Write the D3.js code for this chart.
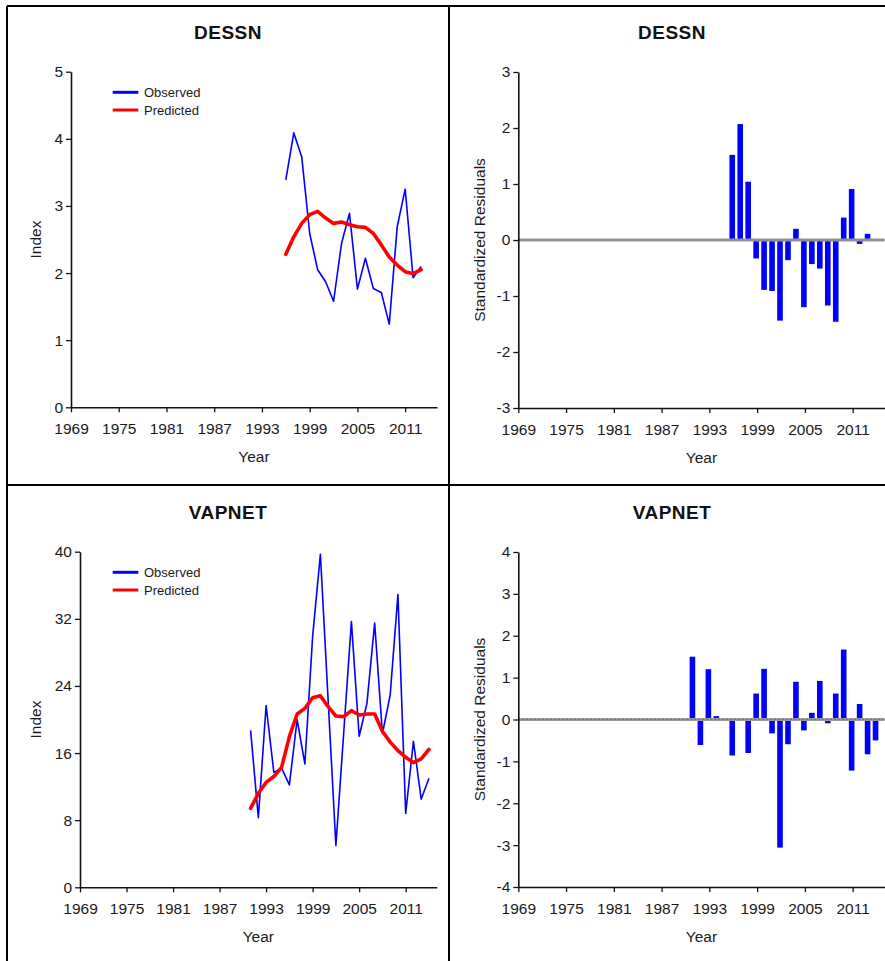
<!DOCTYPE html>
<html>
<head>
<meta charset="utf-8">
<script src="https://cdn.jsdelivr.net/npm/d3@7"></script>
<style>
  html, body { margin: 0; padding: 0; background: #fff; }
  svg { display: block; font-family: "Liberation Sans", Arial, sans-serif; }
</style>
</head>
<body>
<svg id="chart" width="885" height="961"></svg>
<script>
// ---------- data ----------
const xTickYears = [1969, 1975, 1981, 1987, 1993, 1999, 2005, 2011];

const dessnYears = [1996, 1997, 1998, 1999, 2000, 2001, 2002, 2003, 2004, 2005, 2006, 2007, 2008, 2009, 2010, 2011, 2012, 2013];
const dessnObserved = [3.39, 4.09, 3.73, 2.59, 2.05, 1.87, 1.58, 2.44, 2.89, 1.76, 2.22, 1.77, 1.71, 1.24, 2.69, 3.25, 1.93, 2.10];
const dessnPredicted = [2.28, 2.54, 2.74, 2.87, 2.92, 2.82, 2.74, 2.76, 2.72, 2.69, 2.68, 2.59, 2.42, 2.24, 2.12, 2.02, 1.99, 2.05];
const dessnResiduals = [1.52, 2.07, 1.04, -0.33, -0.89, -0.91, -1.44, -0.36, 0.20, -1.20, -0.43, -0.51, -1.17, -1.46, 0.40, 0.91, -0.07, 0.11];
const dessnIndexTicks = [0, 1, 2, 3, 4, 5];
const dessnResidTicks = [-3, -2, -1, 0, 1, 2, 3];

const vapnetYears = [1991, 1992, 1993, 1994, 1995, 1996, 1997, 1998, 1999, 2000, 2001, 2002, 2003, 2004, 2005, 2006, 2007, 2008, 2009, 2010, 2011, 2012, 2013, 2014];
const vapnetObserved = [18.7, 8.3, 21.65, 13.7, 14.2, 12.2, 20.0, 14.7, 29.9, 39.7, 22.3, 5.0, 18.3, 31.66, 18.0, 21.9, 31.5, 18.3, 22.9, 34.9, 8.8, 17.4, 10.5, 13.0];
const vapnetPredicted = [9.4, 11.2, 12.5, 13.2, 14.3, 17.95, 20.66, 21.33, 22.6, 22.84, 21.53, 20.42, 20.34, 21.05, 20.54, 20.66, 20.66, 18.6, 17.3, 16.3, 15.5, 14.86, 15.3, 16.45];
const vapnetResiduals = [1.50, -0.61, 1.20, 0.08, -0.03, -0.86, -0.03, -0.80, 0.62, 1.21, -0.33, -3.06, -0.59, 0.90, -0.26, 0.16, 0.92, -0.09, 0.62, 1.67, -1.22, 0.37, -0.83, -0.50];
const vapnetIndexTicks = [0, 8, 16, 24, 32, 40];
const vapnetResidTicks = [-4, -3, -2, -1, 0, 1, 2, 3, 4];

const legendLabels = ["Observed", "Predicted"];
const seriesColors = ["#0000ff", "#ff0000"];

// ---------- drawing ----------
const svg = d3.select("#chart");
svg.append("rect").attr("width", 885).attr("height", 961).attr("fill", "#fff");

// frame
const frame = svg.append("g").attr("stroke", "#000").attr("stroke-width", 2);
frame.append("line").attr("x1", 7).attr("x2", 885).attr("y1", 6).attr("y2", 6);
frame.append("line").attr("x1", 7).attr("x2", 7).attr("y1", 6).attr("y2", 961);
frame.append("line").attr("x1", 449).attr("x2", 449).attr("y1", 6).attr("y2", 961);
frame.append("line").attr("x1", 7).attr("x2", 885).attr("y1", 485).attr("y2", 485);

const tickFont = "15.5px";
const textColor = "#1a1a1a";
const plainFmt = d => String(d);

function drawAxes(g, x, y, yTicks, yLabel, yLabelX) {
  const [x0, x1] = x.range();
  const [yb, yt] = y.range();
  const xa = g.append("g").attr("transform", `translate(0,${yb})`)
    .call(d3.axisBottom(x).tickValues(xTickYears).tickFormat(plainFmt).tickSize(5).tickSizeOuter(0).tickPadding(11));
  const ya = g.append("g").attr("transform", `translate(${x0},0)`)
    .call(d3.axisLeft(y).tickValues(yTicks).tickFormat(plainFmt).tickSize(5).tickSizeOuter(0).tickPadding(3));
  [xa, ya].forEach(a => {
    a.select(".domain").attr("stroke", "#111").attr("stroke-width", 1.6);
    a.selectAll(".tick line").attr("stroke", "#111").attr("stroke-width", 1.3);
    a.selectAll(".tick text").attr("fill", textColor).style("font-size", tickFont).attr("font-family", "Liberation Sans, Arial, sans-serif");
  });
  g.append("text").attr("x", (x0 + x1) / 2).attr("y", yb + 55)
    .attr("text-anchor", "middle").style("font-size", "15.5px").attr("fill", textColor).text("Year");
  g.append("text").attr("transform", `translate(${yLabelX},${(yb + yt) / 2}) rotate(-90)`)
    .attr("text-anchor", "middle").style("font-size", "15.5px").attr("fill", textColor).text(yLabel);
}

function title(g, cx, cy, t) {
  g.append("text").attr("x", cx).attr("y", cy).attr("text-anchor", "middle")
    .style("font-size", "19px").style("font-weight", "bold").style("letter-spacing", "0.5px").attr("fill", "#111").text(t);
}

function linePanel(o) {
  const g = svg.append("g");
  const x = d3.scaleLinear().domain([1969, 2015]).range([o.xl, o.xr]);
  const y = d3.scaleLinear().domain([0, o.yTicks[o.yTicks.length - 1]]).range([o.yb, o.yt]);
  title(g, o.tx, o.ty, o.title);
  drawAxes(g, x, y, o.yTicks, "Index", 41);
  const line = d3.line().x((d, i) => x(o.years[i])).y(d => y(d));
  g.append("path").datum(o.obs).attr("d", line).attr("fill", "none")
    .attr("stroke", seriesColors[0]).attr("stroke-width", 1.6).attr("stroke-linejoin", "round");
  g.append("path").datum(o.pred).attr("d", line).attr("fill", "none")
    .attr("stroke", seriesColors[1]).attr("stroke-width", 3.6).attr("stroke-linejoin", "round").attr("stroke-linecap", "round");
  // legend
  legendLabels.forEach((lab, i) => {
    const ly = o.yt + 20.6 + i * 17.7;
    g.append("line").attr("x1", 112.7).attr("x2", 138.3).attr("y1", ly).attr("y2", ly)
      .attr("stroke", seriesColors[i]).attr("stroke-width", 3);
    g.append("text").attr("x", 144).attr("y", ly).attr("dy", "0.36em")
      .style("font-size", "13px").attr("fill", textColor).text(lab);
  });
}

function barPanel(o) {
  const g = svg.append("g");
  const x = d3.scaleLinear().domain([1969, 2015]).range([o.xl, o.xr]);
  const lim = o.yTicks[o.yTicks.length - 1];
  const y = d3.scaleLinear().domain([-lim, lim]).range([o.yb, o.yt]);
  title(g, o.tx, o.ty, o.title);
  const bw = 5.6;
  g.selectAll("rect.bar").data(o.res).join("rect").attr("class", "bar")
    .attr("x", (d, i) => x(o.years[i]) - bw / 2 - 1)
    .attr("width", bw)
    .attr("y", d => y(Math.max(0, d)))
    .attr("height", d => Math.abs(y(d) - y(0)))
    .attr("fill", "#0000ff");
  // zero line
  g.append("line").attr("x1", o.xl).attr("x2", o.xr).attr("y1", y(0)).attr("y2", y(0))
    .attr("stroke", "#9a9a9a").attr("stroke-width", 3);
  g.append("line").attr("x1", o.xl).attr("x2", o.xr).attr("y1", y(0)).attr("y2", y(0))
    .attr("stroke", "#6e6e6e").attr("stroke-width", 1).attr("stroke-dasharray", "2,2");
  drawAxes(g, x, y, o.yTicks, "Standardized Residuals", 485);
}

linePanel({ title: "DESSN", tx: 228, ty: 39, xl: 71, xr: 437, yt: 71.7, yb: 407.3,
  yTicks: dessnIndexTicks, years: dessnYears, obs: dessnObserved, pred: dessnPredicted });
linePanel({ title: "VAPNET", tx: 228, ty: 519, xl: 80, xr: 436.7, yt: 551.7, yb: 887.3,
  yTicks: vapnetIndexTicks, years: vapnetYears, obs: vapnetObserved, pred: vapnetPredicted });
barPanel({ title: "DESSN", tx: 672, ty: 39, xl: 518.3, xr: 884.5, yt: 72, yb: 408,
  yTicks: dessnResidTicks, years: dessnYears, res: dessnResiduals });
barPanel({ title: "VAPNET", tx: 672, ty: 519, xl: 518.3, xr: 884.5, yt: 552, yb: 887,
  yTicks: vapnetResidTicks, years: vapnetYears, res: vapnetResiduals });
</script>
</body>
</html>
